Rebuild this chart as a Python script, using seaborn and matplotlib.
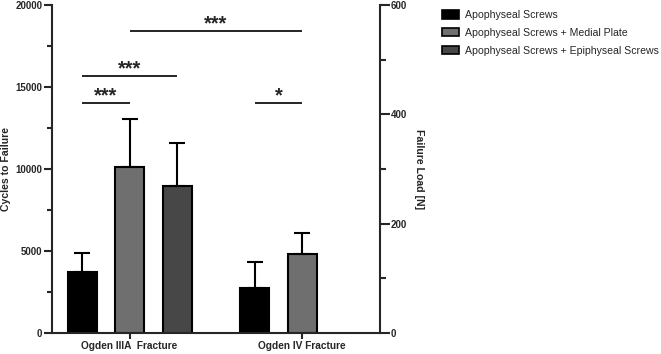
import numpy as np
import pandas as pd
import matplotlib
matplotlib.use("Agg")
import matplotlib.pyplot as plt
from matplotlib.patches import Patch
from matplotlib.ticker import MultipleLocator
import seaborn as sns

# ---- data ----
fractures = ["Ogden IIIA  Fracture", "Ogden IV Fracture"]
groups = ["Apophyseal Screws",
          "Apophyseal Screws + Medial Plate",
          "Apophyseal Screws + Epiphyseal Screws"]
colors = ["#000000", "#6f6f6f", "#474747"]

mean_iiia = [3700, 10100, 8950]
sd_iiia = [1200, 2950, 2650]
mean_iv = [2750, 4800, np.nan]
sd_iv = [1550, 1300, np.nan]

# significance: (fracture idx a, group idx a, fracture idx b, group idx b, y, label)
sig_pairs = [
    (0, 1, 1, 1, 18400, "***"),
    (0, 0, 0, 2, 15650, "***"),
    (0, 0, 0, 1, 14000, "***"),
    (1, 0, 1, 1, 14000, "*"),
]

rows = []
for f, means, sds in [(fractures[0], mean_iiia, sd_iiia), (fractures[1], mean_iv, sd_iv)]:
    for g, m, s in zip(groups, means, sds):
        if not np.isnan(m):
            rows.append({"fracture": f, "group": g, "cycles": m, "sd": s})
df = pd.DataFrame(rows)

sns.set_style("ticks")
plt.rcParams["font.family"] = ["Liberation Sans", "DejaVu Sans"]
plt.rcParams["axes.linewidth"] = 1.5

fig = plt.figure(figsize=(6.61, 3.54), dpi=100)
ax = fig.add_axes([0.0787, 0.0593, 0.5749 - 0.0787, 0.9859 - 0.0593])

sns.barplot(data=df, x="fracture", y="cycles", hue="group",
            order=fractures, hue_order=groups,
            palette=dict(zip(groups, colors)),
            width=0.825, gap=0.39, errorbar=None,
            edgecolor="black", linewidth=1.5, ax=ax, legend=False)

# bar centers from the drawn patches
centers = {}
for h, cont in enumerate(ax.containers):
    for bar in cont:
        cx = bar.get_x() + bar.get_width() / 2
        cat = int(round(cx))
        centers[(cat, h)] = (cx, bar.get_height())

# error bars (upper only)
for _, r in df.iterrows():
    cat = fractures.index(r["fracture"])
    h = groups.index(r["group"])
    cx, top = centers[(cat, h)]
    ax.errorbar([cx], [top], yerr=[[0], [r["sd"]]], fmt="none",
                ecolor="black", elinewidth=1.5, capsize=6, capthick=1.5,
                zorder=1)

# significance brackets
for fa, ga, fb, gb, y, lab in sig_pairs:
    xa = centers[(fa, ga)][0]
    xb = centers[(fb, gb)][0]
    ax.plot([xa, xb], [y, y], color="black", lw=1.2, solid_capstyle="butt")
    ax.text((xa + xb) / 2, y + 120, lab, ha="center", va="baseline",
            fontsize=14.5, fontweight="bold")

ax.set_xlim(-0.45, 1.452)
ax.set_ylim(0, 20000)
ax.yaxis.set_major_locator(MultipleLocator(5000))
ax.yaxis.set_minor_locator(MultipleLocator(2500))
ax.set_xlabel("")
ax.set_ylabel("Cycles to Failure", fontsize=7.6, fontweight="bold", labelpad=3.3)
ax.tick_params(axis="y", which="major", length=6, width=1.5, pad=1, labelsize=7)
ax.tick_params(axis="y", which="minor", length=3.5, width=1.5)
ax.tick_params(axis="x", length=4.5, width=1.5, pad=1.5, labelsize=7.3)
for lab in ax.get_xticklabels() + ax.get_yticklabels():
    lab.set_fontweight("bold")
ax.spines["top"].set_visible(False)
ax.spines["right"].set_visible(False)

ax2 = ax.twinx()
ax2.set_ylim(0, 600)
ax2.yaxis.set_major_locator(MultipleLocator(200))
ax2.yaxis.set_minor_locator(MultipleLocator(100))
ax2.tick_params(axis="y", which="major", length=7, width=1.5, pad=1, labelsize=7)
ax2.tick_params(axis="y", which="minor", length=4.5, width=1.5)
for lab in ax2.get_yticklabels():
    lab.set_fontweight("bold")
ax2.set_ylabel("Failure Load [N]", fontsize=7.6, fontweight="bold",
               rotation=270, labelpad=5, va="bottom")
ax2.spines["top"].set_visible(False)
ax2.spines["left"].set_visible(False)
ax2.spines["bottom"].set_visible(False)
ax2.spines["right"].set_linewidth(1.5)

handles = [Patch(facecolor=c, edgecolor="black", linewidth=1.2) for c in colors]
fig.legend(handles, groups, loc="upper left",
           bbox_to_anchor=(442 / 661, 1 - 10 / 354), bbox_transform=fig.transFigure,
           frameon=False, fontsize=7.6, borderpad=0, borderaxespad=0,
           handlelength=1.6, handleheight=0.85, handletextpad=0.6,
           labelspacing=0.75)

fig.savefig("out.png", dpi=100)
